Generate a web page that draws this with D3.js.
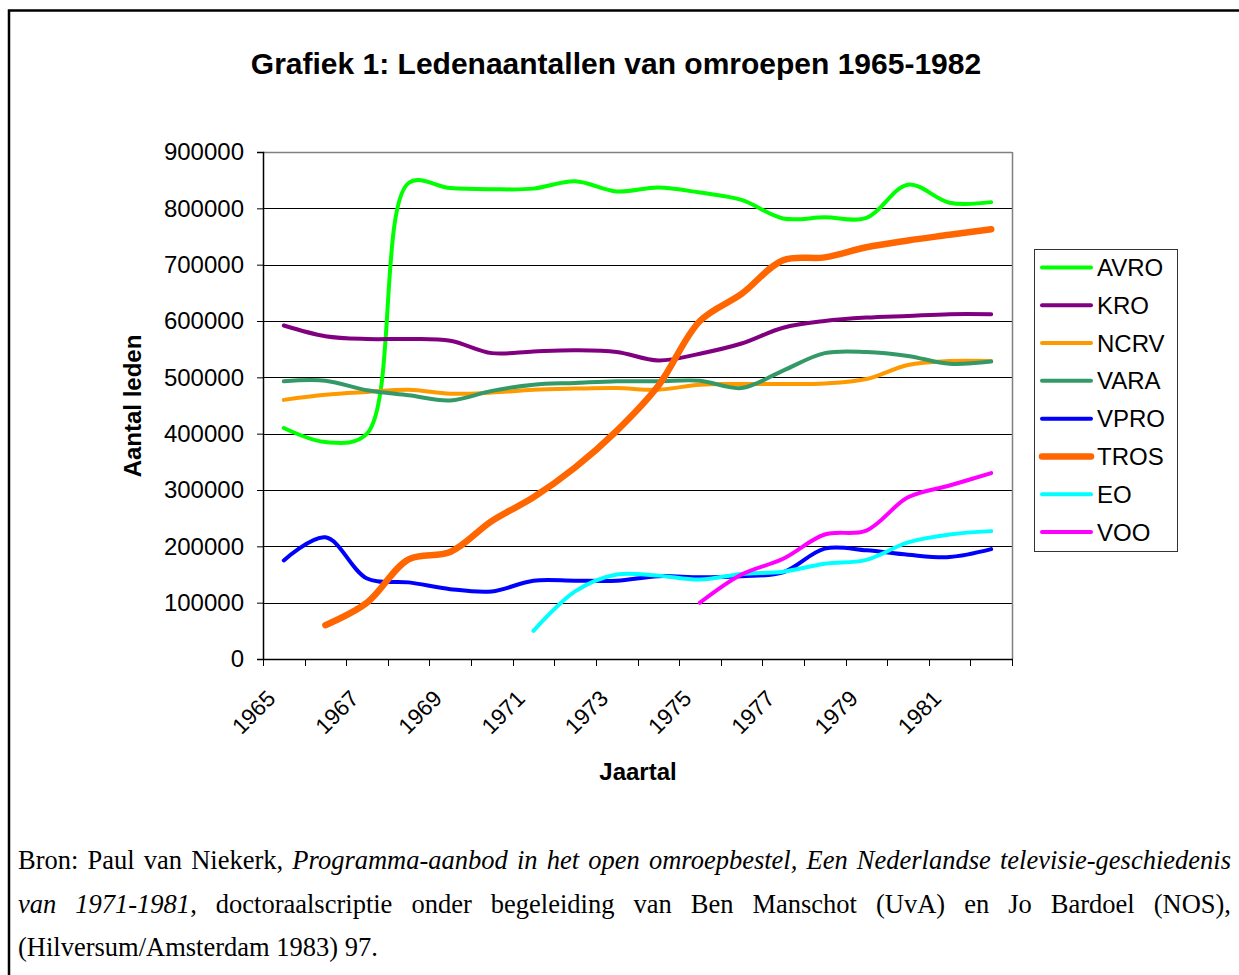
<!DOCTYPE html>
<html>
<head>
<meta charset="utf-8">
<script src="https://cdn.jsdelivr.net/npm/d3@7/dist/d3.min.js"></script>
<style>
  html, body { margin: 0; padding: 0; background: #fff; overflow: hidden; }
  #wrap { position: relative; width: 1239px; height: 975px; }
  svg { position: absolute; left: 0; top: 0; }
  .src { position: absolute; left: 18px; width: 1213px; font-family: "Liberation Serif", "Times New Roman", serif;
         font-size: 26.5px; color: #000; white-space: nowrap; line-height: 1.15; }
  .src.j { text-align: justify; text-align-last: justify; white-space: normal; }
</style>
</head>
<body>
<div id="wrap"></div>
<script>
// ---- data ----
const years = [1965,1966,1967,1968,1969,1970,1971,1972,1973,1974,1975,1976,1977,1978,1979,1980,1981,1982];
const yearLabels = ["1965","1967","1969","1971","1973","1975","1977","1979","1981"];
const yTicks = [0,100000,200000,300000,400000,500000,600000,700000,800000,900000];
const seriesNames = ["AVRO","KRO","NCRV","VARA","VPRO","TROS","EO","VOO"];
const seriesColors = ["#00ff00","#800080","#ff9900","#339966","#0000ff","#ff6600","#00ffff","#ff00ff"];
const seriesWidths = [4,4,4,4,4,6.5,4,4];

const AVRO = [410000,385000,400000,845000,836000,834000,835000,848000,830000,837000,828000,815000,782000,784000,783000,842000,810000,811000];
const KRO  = [592000,573000,568000,568000,565000,543000,546000,548000,545000,530000,542000,560000,588000,600000,606000,609000,612000,612000];
const NCRV = [460000,469000,474000,478000,471000,473000,478000,480000,481000,478000,487000,488000,488000,489000,497000,522000,529000,529000];
const VARA = [493000,494000,477000,468000,459000,476000,487000,490000,493000,493000,494000,481000,512000,543000,545000,538000,524000,528000];
const VPRO = [175000,216000,143000,136000,124000,120000,139000,139000,139000,147000,145000,147000,154000,196000,193000,185000,181000,195000];
const TROS = [null,60000,100000,177000,190000,245000,287000,340000,405000,485000,600000,648000,708000,713000,731000,743000,753000,763000];
const EO   = [null,null,null,null,null,null,50000,120000,150000,148000,141000,151000,155000,169000,176000,207000,221000,227000];
const VOO  = [null,null,null,null,null,null,null,null,null,null,100000,150000,178000,221000,228000,287000,308000,330000];
const seriesValues = [AVRO,KRO,NCRV,VARA,VPRO,TROS,EO,VOO];

// ---- layout ----
const W = 1239, H = 975;
const plot = {left: 263, right: 1012, top: 152, bottom: 659};
const font = "'Liberation Sans', Arial, sans-serif";

const wrap = d3.select("#wrap");
const svg = wrap.append("svg").attr("width", W).attr("height", H);

// outer frame
svg.append("rect").attr("x", 9).attr("y", 10.5).attr("width", 1300).attr("height", 1100)
  .attr("fill", "none").attr("stroke", "#000").attr("stroke-width", 2.5);

const x = d3.scaleBand().domain(years).range([plot.left, plot.right]).paddingInner(0).paddingOuter(0);
const xb = d3.scaleLinear().domain([0, years.length]).range([plot.left, plot.right]);
const y = d3.scaleLinear().domain([0, 900000]).range([plot.bottom, plot.top]);
const cx = yr => x(yr) + x.bandwidth() / 2;

// gridlines
svg.append("g").selectAll("line").data(yTicks.filter(d => d > 0)).join("line")
  .attr("x1", plot.left).attr("x2", plot.right)
  .attr("y1", d => Math.round(y(d)) + 0.5).attr("y2", d => Math.round(y(d)) + 0.5)
  .attr("stroke", d => d === 900000 ? "#808080" : "#000").attr("stroke-width", d => d === 900000 ? 1.5 : 1);
// right border
svg.append("line").attr("x1", plot.right + 0.5).attr("x2", plot.right + 0.5)
  .attr("y1", plot.top).attr("y2", plot.bottom).attr("stroke", "#808080").attr("stroke-width", 1.5);

// y axis
const yAxis = d3.axisLeft(y).tickValues(yTicks).tickSize(6).tickPadding(13).tickFormat(d => String(d));
const gy = svg.append("g").attr("transform", `translate(${plot.left},0)`).call(yAxis);
gy.select(".domain").attr("stroke", "#000").attr("stroke-width", 1.5);
gy.selectAll(".tick line").attr("stroke", "#000");
gy.selectAll(".tick text").attr("font-family", font).attr("font-size", 24).attr("fill", "#000");

// x axis line and ticks at category boundaries
svg.append("line").attr("x1", plot.left).attr("x2", plot.right + 1)
  .attr("y1", plot.bottom + 0.5).attr("y2", plot.bottom + 0.5).attr("stroke", "#000").attr("stroke-width", 1.5);
svg.append("g").selectAll("line").data(d3.range(years.length + 1)).join("line")
  .attr("x1", d => Math.round(xb(d)) + 0.5).attr("x2", d => Math.round(xb(d)) + 0.5)
  .attr("y1", plot.bottom).attr("y2", plot.bottom + 7).attr("stroke", "#000");

// x labels, rotated
svg.append("g").selectAll("text").data(yearLabels).join("text")
  .attr("transform", d => `translate(${cx(+d) - 7},${plot.bottom + 41}) rotate(-45)`)
  .attr("text-anchor", "end")
  .attr("font-family", font).attr("font-size", 22.5).attr("fill", "#000")
  .text(d => d);

// series lines
const line = d3.line()
  .defined(d => d.v != null)
  .x(d => cx(d.yr)).y(d => y(d.v))
  .curve(d3.curveCatmullRom.alpha(0.5));

const gLines = svg.append("g");
seriesNames.forEach((name, i) => {
  const pts = years.map((yr, j) => ({yr, v: seriesValues[i][j]}));
  gLines.append("path").datum(pts)
    .attr("d", line)
    .attr("fill", "none")
    .attr("stroke", seriesColors[i])
    .attr("stroke-width", seriesWidths[i])
    .attr("stroke-linecap", "round")
    .attr("stroke-linejoin", "round");
});

// title
svg.append("text").attr("x", 616).attr("y", 74).attr("text-anchor", "middle")
  .attr("font-family", font).attr("font-size", 30).attr("font-weight", "bold")
  .text("Grafiek 1: Ledenaantallen van omroepen 1965-1982");

// axis titles
svg.append("text").attr("transform", "translate(141,406) rotate(-90)").attr("text-anchor", "middle")
  .attr("font-family", font).attr("font-size", 24).attr("font-weight", "bold")
  .text("Aantal leden");
svg.append("text").attr("x", 638).attr("y", 780).attr("text-anchor", "middle")
  .attr("font-family", font).attr("font-size", 24).attr("font-weight", "bold")
  .text("Jaartal");

// legend
const lg = svg.append("g");
lg.append("rect").attr("x", 1034.5).attr("y", 249.5).attr("width", 143).attr("height", 302)
  .attr("fill", "#fff").attr("stroke", "#333").attr("stroke-width", 1);
const rowY = d3.scaleLinear().domain([0, seriesNames.length - 1]).range([267.5, 532]);
seriesNames.forEach((name, i) => {
  const yy = rowY(i);
  lg.append("line").attr("x1", 1042).attr("x2", 1091).attr("y1", yy).attr("y2", yy)
    .attr("stroke", seriesColors[i]).attr("stroke-width", seriesWidths[i]).attr("stroke-linecap", "round");
  lg.append("text").attr("x", 1097).attr("y", yy + 8.5)
    .attr("font-family", font).attr("font-size", 24).attr("fill", "#000").text(name);
});

// source note
const src1 = wrap.append("div").attr("class", "src j").style("top", "845px");
src1.html("Bron: Paul van Niekerk, <i>Programma-aanbod in het open omroepbestel, Een Nederlandse televisie-geschiedenis</i>");
const src2 = wrap.append("div").attr("class", "src j").style("top", "889px");
src2.html("<i>van 1971-1981</i>, doctoraalscriptie onder begeleiding van Ben Manschot (UvA) en Jo Bardoel (NOS),");
const src3 = wrap.append("div").attr("class", "src").style("top", "932px");
src3.html("(Hilversum/Amsterdam 1983) 97.");
</script>
</body>
</html>
